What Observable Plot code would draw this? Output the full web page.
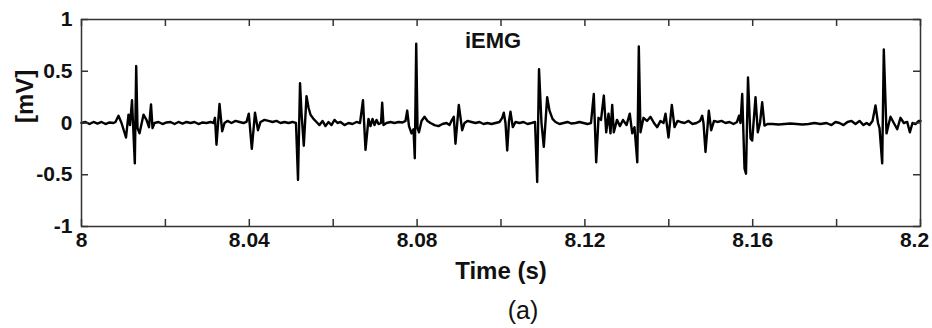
<!DOCTYPE html>
<html>
<head>
<meta charset="utf-8">
<script src="https://cdn.jsdelivr.net/npm/d3@7"></script>
<script src="https://cdn.jsdelivr.net/npm/@observablehq/plot@0.6"></script>
<style>
  html, body { margin: 0; padding: 0; background: #fff; }
  #caption { width: 932px; box-sizing: border-box; padding-left: 114px; margin-top: 5px;
    text-align: center; font-family: "Liberation Sans", Arial, sans-serif; font-size: 25px; line-height: 30px; color: #111; }
</style>
</head>
<body>
<div id="chart"></div>
<div id="caption">(a)</div>
<script>
// ---- data ----
const chartTitle = "iEMG";
const xLabel = "Time (s)";
const yLabel = "[mV]";
const timeStart = 8; // seconds
const xDomain = [8, 8.2];
const yDomain = [-1, 1];
const xTicks = [8, 8.02, 8.04, 8.06, 8.08, 8.1, 8.12, 8.14, 8.16, 8.18, 8.2];
const xLabelTicks = [8, 8.04, 8.08, 8.12, 8.16, 8.2];
const xTickLabels = ["8", "8.04", "8.08", "8.12", "8.16", "8.2"];
const yTicks = [-1, -0.5, 0, 0.5, 1];
const yTickLabels = ["-1", "-0.5", "0", "0.5", "1"];

// time after 8 s, in milliseconds
const timeMs = [
  0.00, 0.95, 1.91, 2.86, 3.81, 4.77, 5.72, 6.67, 7.63, 8.10, 8.82, 9.54, 10.61, 11.20, 11.56, 12.04, 12.71, 13.04, 13.35, 13.83,
  14.78, 15.49, 16.09, 16.57, 16.93, 17.40, 18.36, 19.31, 20.26, 21.22, 22.17, 23.12, 24.08, 25.03, 25.98, 26.94, 27.89, 28.84, 29.80, 30.75,
  31.47, 31.82, 32.18, 32.90, 33.54, 34.09, 34.80, 35.76, 36.71, 37.66, 38.62, 39.33, 39.88, 40.60, 41.36, 42.07, 42.67, 43.62, 44.58, 45.53,
  46.48, 47.44, 48.39, 49.34, 50.30, 51.13, 51.61, 52.09, 52.44, 52.99, 53.64, 54.11, 54.59, 55.30, 56.02, 56.73, 57.45, 58.16, 58.88, 59.59,
  60.31, 61.03, 61.74, 62.69, 63.65, 64.60, 65.55, 66.39, 67.10, 67.70, 68.41, 68.89, 69.37, 69.85, 70.32, 70.80, 71.39, 71.68, 71.99, 72.71,
  73.66, 74.61, 75.57, 76.52, 77.23, 77.64, 78.07, 78.67, 79.14, 79.45, 79.79, 80.10, 80.45, 81.05, 81.76, 82.48, 83.19, 84.15, 85.10, 86.05,
  87.01, 87.72, 88.32, 88.75, 89.15, 89.94, 90.75, 91.30, 92.01, 92.97, 93.92, 94.87, 95.83, 96.78, 97.74, 98.69, 99.64, 100.29, 100.67, 101.07,
  101.48, 101.91, 102.26, 102.81, 103.46, 104.41, 105.36, 106.32, 107.27, 108.11, 108.63, 109.06, 109.65, 110.20, 111.01, 111.56, 112.28, 112.99, 113.95, 114.90,
  115.85, 116.81, 117.76, 118.71, 119.67, 120.62, 121.45, 122.12, 122.69, 123.24, 123.84, 124.51, 125.08, 125.63, 126.10, 126.51, 126.89, 127.65, 128.37, 129.08,
  129.92, 130.70, 131.28, 131.82, 132.49, 132.85, 133.25, 133.97, 134.80, 135.64, 136.47, 137.24, 138.02, 138.74, 139.21, 139.93, 140.72, 141.36, 142.07, 142.79,
  143.74, 144.70, 145.65, 146.60, 147.44, 147.96, 148.27, 148.75, 149.54, 150.11, 150.78, 151.61, 152.57, 153.52, 154.47, 155.42, 156.26, 156.73, 157.09, 157.50,
  158.05, 158.40, 158.88, 159.48, 159.88, 160.67, 161.22, 161.74, 162.26, 162.81, 163.53, 164.72, 166.15, 167.58, 169.01, 170.44, 171.87, 173.30, 174.73, 176.16,
  177.59, 178.78, 179.74, 180.69, 181.64, 182.60, 183.55, 184.51, 185.46, 186.41, 187.13, 187.84, 188.56, 189.27, 189.87, 190.23, 190.87, 191.25, 191.90, 192.37,
  192.85, 193.64, 194.45, 195.23, 196.03, 196.84, 197.46, 198.09, 198.81, 199.59, 200.00
];
// signal amplitude in mV
const mV = [
  0.00, 0.01, -0.01, 0.01, -0.005, 0.01, -0.01, 0.005, 0.00, 0.01, 0.07, 0.00, -0.14, 0.08, -0.02, 0.22, -0.39, 0.55, -0.05, -0.10,
  0.08, 0.03, -0.04, 0.18, -0.05, 0.00, 0.01, -0.01, 0.005, 0.01, -0.01, 0.01, -0.005, 0.01, 0.00, 0.01, -0.01, 0.005, 0.00, 0.01,
  0.00, 0.05, -0.21, 0.185, -0.08, 0.00, 0.02, 0.00, 0.02, 0.01, 0.00, 0.01, 0.09, -0.25, 0.10, -0.07, 0.01, 0.03, 0.02, 0.01,
  0.02, 0.00, 0.01, 0.00, 0.01, 0.00, -0.55, 0.385, 0.10, -0.22, 0.26, 0.15, 0.08, 0.04, 0.01, -0.02, 0.02, -0.03, 0.01, -0.02,
  0.03, 0.00, 0.01, -0.02, 0.00, -0.01, 0.01, 0.00, 0.22, -0.26, 0.04, -0.03, 0.04, -0.02, 0.03, -0.01, 0.00, 0.195, -0.02, 0.00,
  0.01, 0.00, 0.01, 0.005, 0.02, 0.12, -0.03, -0.10, -0.06, -0.34, 0.765, -0.05, -0.09, 0.02, 0.06, 0.02, 0.00, -0.02, -0.03, -0.01,
  0.00, -0.02, 0.03, 0.06, -0.20, 0.175, -0.07, 0.00, 0.02, 0.01, 0.00, 0.01, -0.01, 0.00, -0.01, 0.00, 0.01, 0.05, 0.10, 0.00,
  -0.265, 0.02, 0.11, -0.04, 0.01, 0.00, 0.01, -0.01, 0.00, 0.01, -0.57, 0.52, 0.00, -0.23, 0.25, 0.12, 0.04, 0.01, -0.01, 0.00,
  0.01, -0.005, 0.00, 0.01, 0.00, -0.01, 0.00, 0.28, -0.38, 0.05, 0.03, 0.265, -0.09, 0.09, -0.10, 0.175, -0.09, 0.03, -0.03, 0.03,
  -0.02, 0.09, -0.10, -0.04, -0.38, 0.74, -0.09, 0.05, 0.02, 0.06, 0.00, -0.04, 0.02, 0.00, 0.09, -0.14, 0.175, -0.04, 0.02, 0.01,
  0.00, 0.02, -0.01, 0.00, 0.02, 0.07, 0.00, -0.28, 0.12, -0.07, 0.02, 0.01, 0.02, 0.00, 0.01, -0.01, 0.01, 0.07, 0.00, 0.28,
  -0.44, -0.49, 0.44, -0.15, -0.17, 0.25, -0.09, 0.00, 0.20, -0.025, -0.01, -0.01, -0.015, -0.01, -0.005, -0.01, -0.015, -0.01, 0.00, -0.01,
  0.00, -0.02, 0.01, 0.00, -0.02, 0.01, 0.02, -0.01, 0.02, -0.02, 0.00, -0.02, 0.02, 0.17, 0.00, -0.05, -0.39, 0.71, -0.10, -0.02,
  0.06, 0.00, -0.06, 0.05, 0.00, 0.01, -0.09, 0.00, -0.01, 0.02, 0.02
];

// ---- build table ----
const n = Math.min(timeMs.length, mV.length);
const table = [];
for (let i = 0; i < n; i++) table.push({t: timeStart + timeMs[i] / 1000, v: mV[i]});

const W = 932, H = 290, mT = 19, mL = 81, mR = 12, mB = 64;
const plotW = W - mL - mR, plotH = H - mT - mB, tickLen = 7;

const font = '"Liberation Sans", Arial, Helvetica, sans-serif';
const frameColor = "#333";
const tickStyle = {stroke: frameColor, strokeWidth: 1.5};
const fmtX = d => xTickLabels[xLabelTicks.indexOf(d)];
const labelStyle = {anchor: "bottom", tickSize: 0, tickPadding: 6, fontSize: 21, fontWeight: "bold",
  tickFormat: fmtX, label: null, fill: "#111"};

const plot = Plot.plot({
  width: W,
  height: H,
  marginTop: mT,
  marginLeft: mL,
  marginRight: mR,
  marginBottom: mB,
  style: {fontFamily: font, background: "#fff", color: "#111", overflow: "visible"},
  x: {domain: xDomain},
  y: {domain: yDomain},
  marks: [
    Plot.line(table, {x: "t", y: "v", stroke: "#000", strokeWidth: 2.4, strokeLinejoin: "round"}),
    Plot.frame({stroke: frameColor, strokeWidth: 1.5}),
    // inward ticks on all four sides (rules spanning the frame, inset to tick length)
    Plot.ruleX(xTicks, {x: d => d, insetTop: plotH - tickLen, ...tickStyle}),
    Plot.ruleX(xTicks, {x: d => d, insetBottom: plotH - tickLen, ...tickStyle}),
    Plot.ruleY(yTicks, {y: d => d, insetRight: plotW - tickLen, ...tickStyle}),
    Plot.ruleY(yTicks, {y: d => d, insetLeft: plotW - tickLen, ...tickStyle}),
    Plot.axisX(xLabelTicks.slice(0, -1), labelStyle),
    Plot.axisX(xLabelTicks.slice(-1), {...labelStyle, dx: -6}),
    Plot.axisY(yTicks, {anchor: "left", tickSize: 0, tickPadding: 9, fontSize: 21, fontWeight: "bold",
      tickFormat: d => yTickLabels[yTicks.indexOf(d)], label: null, fill: "#111"}),
    Plot.text([chartTitle], {frameAnchor: "top", lineAnchor: "top", dx: -8, dy: 13, fontSize: 22, fontWeight: "bold", fill: "#111"}),
    Plot.text([xLabel], {frameAnchor: "bottom", lineAnchor: "top", dy: 35, fontSize: 24, fontWeight: "bold", fill: "#111"}),
    Plot.text([yLabel], {frameAnchor: "left", rotate: -90, dx: -56, fontSize: 24, fontWeight: "bold", fill: "#111"})
  ]
});
document.getElementById("chart").append(plot);
</script>
</body>
</html>
